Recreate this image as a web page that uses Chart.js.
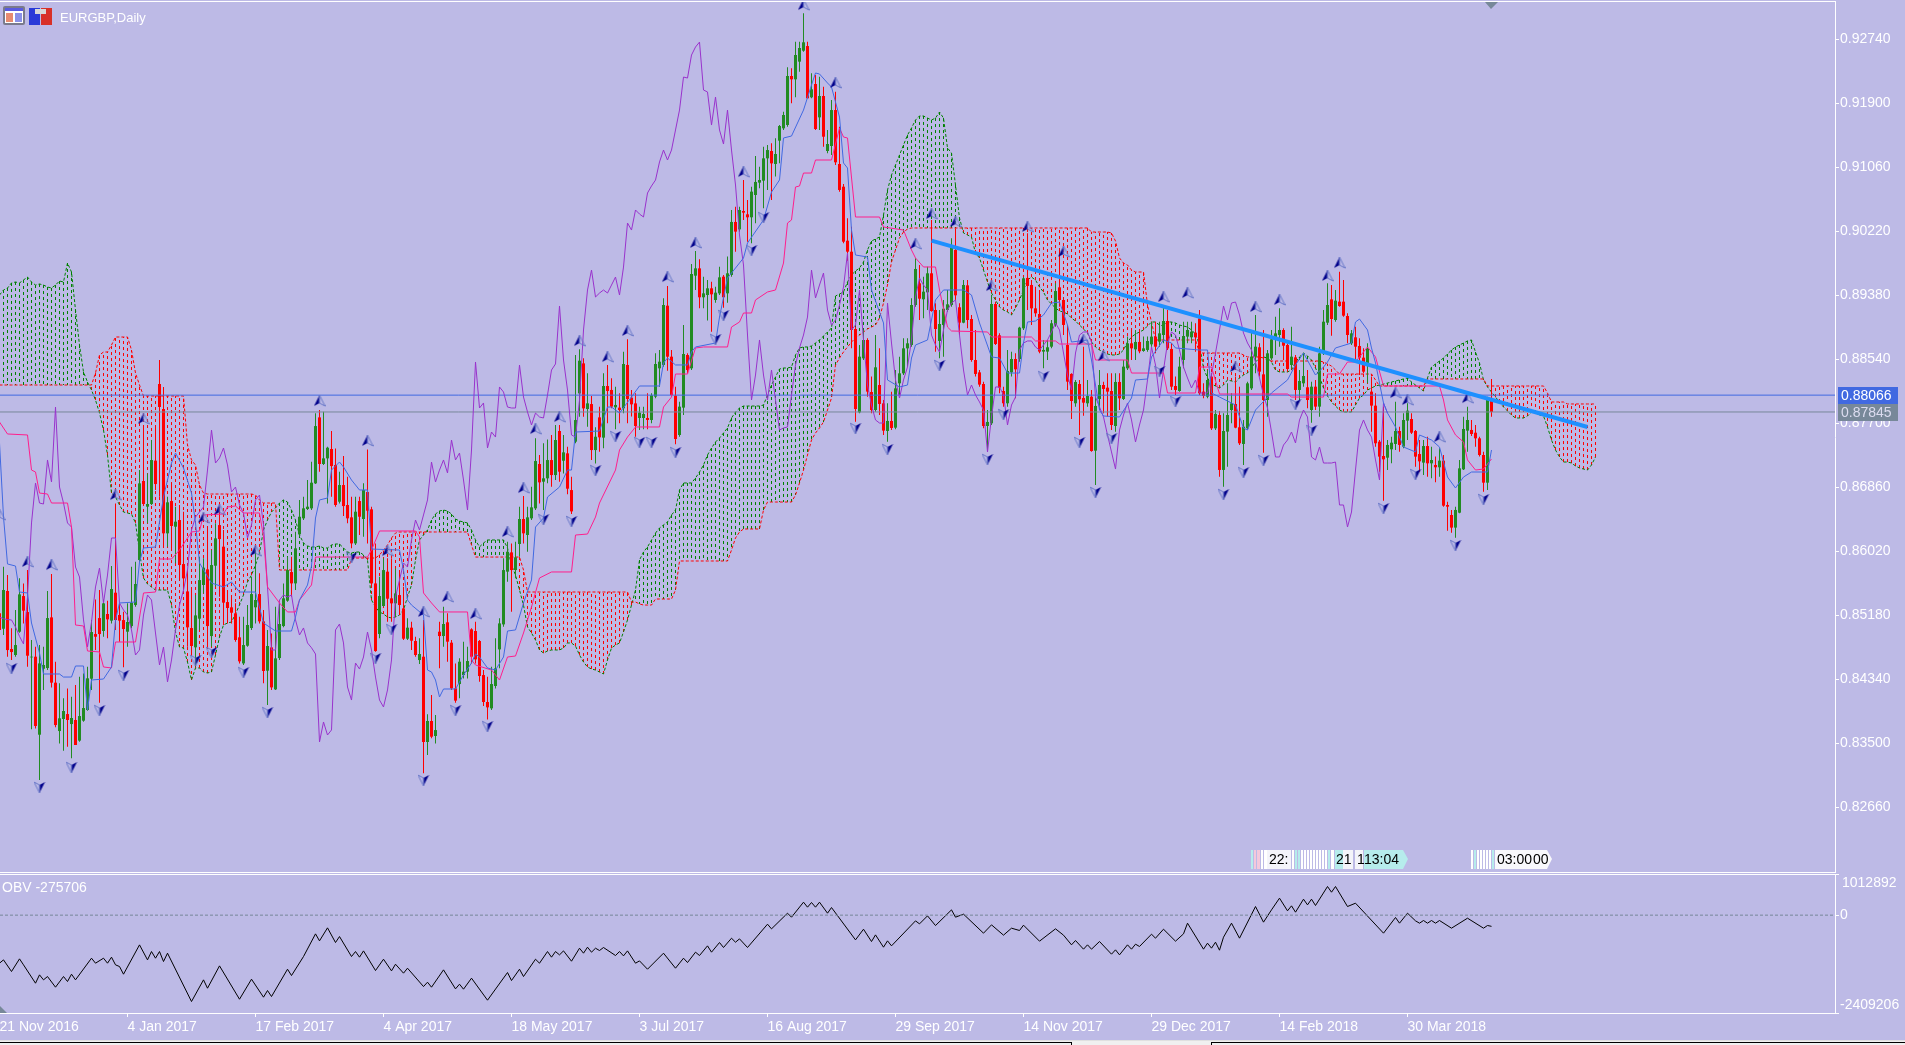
<!DOCTYPE html>
<html>
<head>
<meta charset="utf-8">
<title>EURGBP Daily</title>
<style>
  html, body { margin: 0; padding: 0; background: #BDBAE6; overflow: hidden; }
  #page { position: relative; width: 1905px; height: 1045px; background: #BDBAE6; overflow: hidden; }
  canvas { position: absolute; left: 0; display: block; }
  #main { top: 0; }
  #sub { top: 874px; }
  .wl { position: absolute; background: #fff; }
  .txt { position: absolute; color: #fff; font: 13px "Liberation Sans", Arial, sans-serif; white-space: nowrap; }
  svg { position: absolute; left: 0; top: 0; }
</style>
</head>
<body>
<div id="page">
  <canvas id="main" width="1905" height="874"></canvas>
  <canvas id="sub" width="1905" height="171"></canvas>
  <div class="wl" style="left:0;top:1px;width:1836px;height:1px"></div>
  <div class="wl" style="left:1835px;top:1px;width:1px;height:1px"></div>
  <div class="wl" style="left:0;top:872px;width:1836px;height:1px"></div>
  <div class="wl" style="left:0;top:874px;width:1836px;height:1px"></div>
  <div class="txt" style="left:60px;top:10px">EURGBP,Daily</div>
  <div class="txt" style="left:2px;top:879px;font-size:14px">OBV -275706</div>
  <svg width="1905" height="1045" font-family="Liberation Sans" font-size="14">
    <!-- chart window icons -->
    <rect x="3" y="6" width="22" height="19" rx="2" fill="#7a7a8c"/>
    <rect x="5" y="8" width="18" height="15" fill="#fff"/>
    <rect x="5" y="8" width="18" height="3" fill="#5a5ae0"/>
    <rect x="6" y="13" width="7" height="9" fill="#e88a70"/>
    <rect x="15" y="13" width="7" height="9" fill="#8a90e8"/>
    <rect x="29" y="8" width="11" height="17" fill="#2a3ad8"/>
    <rect x="41" y="8" width="11" height="17" fill="#d83028"/>
    <rect x="35" y="9" width="11" height="5" fill="#d8d8d8"/>
    <!-- grab handles -->
    <polygon points="1485,2 1498,2 1491,9" fill="#778899"/>
    <polygon points="0,1006 0,1013 7,1013" fill="#778899"/>
    <!-- clock tags over the pane border -->
    <g>
      <rect x="1251" y="850" width="2" height="19" fill="#B6ECEC"/><rect x="1254" y="850" width="2" height="19" fill="#F4C8DC"/>
      <rect x="1257" y="850" width="3" height="19" fill="#F4C8DC"/><rect x="1261" y="850" width="2" height="19" fill="#fff"/>
      <rect x="1264" y="850" width="3" height="19" fill="#fff"/><rect x="1267" y="850" width="24" height="19" fill="#f4f4fa"/>
      <rect x="1292" y="850" width="2" height="19" fill="#fff"/><rect x="1295" y="850" width="2" height="19" fill="#B6ECEC"/>
      <rect x="1298" y="850" width="2" height="19" fill="#B6ECEC"/><rect x="1301" y="850" width="2" height="19" fill="#fff"/>
      <rect x="1304" y="850" width="2" height="19" fill="#fff"/><rect x="1307" y="850" width="2" height="19" fill="#fff"/>
      <rect x="1310" y="850" width="2" height="19" fill="#fff"/><rect x="1313" y="850" width="2" height="19" fill="#fff"/>
      <rect x="1316" y="850" width="2" height="19" fill="#fff"/><rect x="1319" y="850" width="2" height="19" fill="#fff"/>
      <rect x="1322" y="850" width="2" height="19" fill="#fff"/><rect x="1325" y="850" width="2" height="19" fill="#fff"/>
      <rect x="1328" y="850" width="2" height="19" fill="#B6ECEC"/><rect x="1331" y="850" width="3" height="19" fill="#fff"/>
      <rect x="1335" y="850" width="8" height="19" fill="#B6ECEC"/><rect x="1343" y="850" width="10" height="19" fill="#f4f4fa"/>
      <rect x="1355" y="850" width="8" height="19" fill="#f4f4fa"/>
      <polygon points="1364,850 1403,850 1408,859 1403,869 1364,869" fill="#B6ECEC"/>
      <rect x="1471" y="850" width="2" height="19" fill="#fff"/><rect x="1474" y="850" width="2" height="19" fill="#B6ECEC"/>
      <rect x="1477" y="850" width="2" height="19" fill="#fff"/><rect x="1480" y="850" width="2" height="19" fill="#fff"/>
      <rect x="1483" y="850" width="2" height="19" fill="#fff"/><rect x="1486" y="850" width="2" height="19" fill="#fff"/>
      <rect x="1489" y="850" width="2" height="19" fill="#fff"/><rect x="1492" y="850" width="2" height="19" fill="#B6ECEC"/>
      <polygon points="1495,850 1547,850 1552,859 1547,869 1495,869" fill="#f8f8fc"/>
      <text x="1269" y="864" fill="#000">22:</text>
      <text x="1336" y="864" fill="#000">21</text>
      <text x="1357" y="864" fill="#000">1</text>
      <text x="1364" y="864" fill="#000">13:04</text>
      <text x="1497" y="864" fill="#000">03:00</text>
      <text x="1533" y="864" fill="#000">00</text>
    </g>
    <!-- terminal tab strip -->
    <rect x="0" y="1040" width="1905" height="1" fill="#E0E0E0"/>
    <rect x="0" y="1041" width="1905" height="4" fill="#F0F0F0"/>
    <rect x="0" y="1042" width="1071" height="1" fill="#000"/>
    <rect x="1211" y="1042" width="694" height="1" fill="#000"/>
    <rect x="1071" y="1042" width="1" height="3" fill="#000"/>
    <rect x="1211" y="1042" width="1" height="3" fill="#000"/>
  </svg>
</div>

<script src="https://cdn.jsdelivr.net/npm/chart.js@4"></script>
<script>
// prices are in points (1e-5), one row per 10 bars
const highs = [
85705,85814,85705,85005,85245,85661,85595,85770,84852,84764,
84786,84764,85495,85718,84567,84283,84086,84217,84108,84261,
84370,84414,84502,85114,85385,85508,85385,85368,85823,86645,
85333,85224,85333,85814,85880,87083,87652,87039,87477,87674,
88527,88172,86733,86908,86602,86624,86536,85770,85508,85442,
85945,85924,86339,86033,86383,86602,86295,85508,85420,85333,
85158,85158,85311,85683,86033,85727,85245,84983,84939,85289,
85333,85595,85945,85945,86274,86689,86733,86952,87192,87827,
87870,87849,87389,87595,87367,87061,87267,86995,86733,86733,
86733,86908,87354,86602,86120,85683,85924,85924,85924,85792,
85770,85552,85136,85092,84895,84874,85114,83876,84130,83867,
85092,85289,85202,84852,84545,84611,84830,84764,85005,85092,
84852,84458,84370,84502,84874,85136,85924,86142,86120,86142,
86602,86742,86602,86864,87499,87280,87433,87485,87542,87674,
87674,87542,87389,86995,88592,88667,88549,88352,88054,87643,
87914,88352,88462,88287,88177,88090,88637,88798,88134,88090,
87915,87915,88090,88090,88615,88659,89337,89498,88659,88177,
87980,88987,88615,89787,89958,89848,89621,89577,89555,89490,
89752,89643,89884,90496,90540,90540,90890,90627,90802,91205,
91065,91327,91349,91371,91437,91612,91787,92368,92355,92705,
92705,93077,92705,92290,92268,92246,92115,91546,91940,92049,
91590,90837,90387,90277,88965,88724,88921,88812,88309,88855,
88680,88002,87958,88112,88396,88571,88812,88812,89337,89862,
89774,89621,89752,90365,89271,89184,89315,89446,90124,90255,
89271,89577,89577,89118,88921,88396,88243,87871,89380,89293,
88877,88177,88658,88637,88615,88965,89621,90190,89577,89490,
89446,88790,88790,89052,89534,89993,89337,88987,88352,88265,
88265,88702,88265,88134,88046,88396,88243,88352,88352,88352,
88352,88527,88834,88921,88921,88921,88834,88834,89030,89030,
89030,89227,89184,88746,88309,88571,89030,89030,89030,89009,
89184,88221,88396,88352,87871,87858,87827,88221,88090,88309,
88177,87740,88243,88921,89118,88746,88921,88658,88921,89096,
89205,88943,88746,88965,88593,88396,88615,88396,88243,88265,
88702,89183,89533,89512,89446,89687,89577,89140,88921,88965,
88812,88680,88746,88309,88090,87477,87915,87477,87521,87980,
87652,87827,87958,87827,87609,87477,87477,87521,87390,87259,
87368,87280,86668,86559,86602,87215,87783,87915,87740,87674,
87521,87324,88046,88278];
const lows = [
84633,84917,84633,84589,84633,84948,85070,84502,83679,83692,
83014,84195,84458,84230,83706,83495,83399,83452,83299,83474,
83518,83780,83924,84195,84720,84029,84895,84874,85070,84983,
84830,84493,84764,85005,85289,85880,86624,86383,86624,86820,
86733,86077,86077,86055,85858,85639,85508,84764,84677,84502,
84983,85464,84764,84764,85552,85420,85070,85070,85070,84830,
84545,84524,84764,84983,85070,85070,84283,84000,84195,84195,
84589,85018,85355,85420,85508,86208,86427,86558,86558,86899,
87061,87149,86645,86733,86602,86645,86479,86383,86055,86099,
86230,86208,86120,85574,84699,84874,85289,85092,85092,85158,
85180,84852,84852,84721,84633,84537,83102,83342,83561,83495,
84480,84764,84567,84195,84029,84086,84348,84348,84545,84545,
84305,83986,83810,83933,84217,84480,85027,85617,85224,85661,
85945,86120,86011,86427,86558,86645,86558,86908,86864,86952,
86930,87039,86764,86505,87433,87783,87783,87652,87214,87170,
87324,87368,87696,87893,87617,87696,87827,87696,87784,87521,
87608,87617,87617,87696,88024,88177,88440,88387,88046,87420,
87521,87805,88352,88396,89446,89205,89205,89044,88899,89280,
89380,89214,89280,89621,89949,90212,90365,90080,90058,90321,
90780,90518,90758,90627,90934,91108,91546,91590,91896,91975,
92312,92574,91962,91962,91546,91546,91327,91240,91218,91087,
90737,90058,89831,88680,87718,87827,88527,88046,87827,87849,
87805,87543,87455,87608,87617,88068,88330,88440,88702,89227,
89052,89074,89184,89162,88637,88549,88571,89162,89227,89315,
88855,89009,88943,88505,88309,88177,87630,87324,87674,88724,
88090,87915,87915,88309,88024,88505,88921,89184,88987,89096,
88615,88418,88527,88680,88965,89227,88855,88134,87753,87915,
87543,87797,87915,87324,86887,87871,87827,87784,87608,87587,
87871,88002,88396,88527,88527,88615,88637,88637,88702,88615,
88702,88746,88659,88134,88068,88112,88418,88746,88746,88637,
88068,88024,88024,87609,87609,86996,86865,87127,87696,87630,
87412,87149,87609,88134,88352,88309,87311,87783,88527,88593,
88702,88527,88374,88418,88002,88002,88177,87893,87705,87871,
87783,88593,88987,88847,89030,89227,89096,88746,88724,88527,
88330,88352,88221,87587,87390,87062,86681,87084,87171,87346,
87324,87368,87477,87556,87127,87062,87018,86996,86974,86922,
86996,86602,86287,86261,86195,86515,87084,87324,87530,87390,
87259,86799,86821,87783];
const opens = [
85202,85000,85495,84734,84655,84961,85429,85219,84624,84633,
83609,84475,84484,85149,84292,83657,83815,83880,83749,83802,
83531,83793,83933,84344,84930,85140,84970,85193,85106,85473,
85180,85114,84961,85035,85311,85902,86939,86602,86637,87206,
88212,87884,86252,86676,86339,86427,85849,85490,85009,84756,
85132,85574,85779,84904,85827,86361,86077,85350,85281,85202,
84887,84545,84777,85009,85281,85455,85097,84449,84755,84204,
84615,85035,85368,85744,85595,86239,86449,86571,86580,86908,
87774,87162,87236,87359,87149,86667,86886,86624,86462,86120,
86676,86440,86794,86567,85595,84931,85298,85749,85399,85333,
85442,85267,84869,85014,84839,84589,84633,83513,83789,83592,
84961,84904,85084,84817,84217,84274,84392,84436,84992,84970,
84839,84392,84038,83955,84248,84729,85057,85749,86002,85770,
86112,86440,86230,86449,86580,87162,86930,86974,87214,87017,
87595,87205,87302,86820,87455,88089,88483,87884,87949,87345,
87774,87508,88186,88134,87906,87902,87893,88462,88033,87958,
87766,87766,87766,87740,88046,88418,88462,89240,88571,88059,
87543,87902,88593,88418,89634,89730,89350,89380,89468,89315,
89402,89621,89402,89643,90339,90242,90483,90439,90400,90693,
90855,90881,91174,91270,91100,91406,91568,91612,92255,92211,
92443,92587,92648,91975,92150,91712,91992,91270,91336,91808,
91100,90802,90093,89949,88934,87840,88549,88790,88107,87871,
88199,87958,87595,87727,87639,88221,88352,88680,88724,89249,
89534,89324,89415,89665,89184,88777,88987,89184,89249,89971,
89219,89017,89507,89065,88527,88365,88212,87661,87696,89262,
88851,88120,87959,88365,88540,88540,88943,89604,89512,89205,
89131,88637,88637,88702,88987,89481,89315,88724,88344,87959,
88212,88029,87959,88046,87337,88015,88199,88164,88120,87661,
88239,88015,88418,88746,88667,88764,88645,88659,88733,88834,
88768,88855,89039,88672,88186,88120,88527,88834,88825,88886,
89074,88112,88046,88309,87630,87805,87084,87587,87871,87950,
87644,87425,87630,88155,88571,88694,88339,88002,88549,88790,
88855,88921,88724,88462,88562,88134,88221,88169,87871,88177,
87915,88615,89017,89323,89052,89293,89293,89105,88746,88825,
88711,88558,88483,88112,87928,87455,87267,87245,87355,87425,
87595,87390,87731,87753,87595,87293,87180,87398,87171,87149,
87119,87206,86624,86493,86327,86523,87092,87600,87609,87573,
87499,87280,86917,87993];
const closes = [
84983,85508,84720,84694,84786,85451,85237,84646,84633,83723,
84545,84524,85140,84292,83736,83824,83920,83802,83828,83474,
83854,83959,84349,84957,84895,84930,85333,85123,85521,85114,
85106,84996,85088,85342,85587,86908,86637,86637,87214,86899,
87910,86252,86659,86348,86405,85836,85661,85018,84773,85175,
85639,85801,85035,85836,86186,86177,85342,85272,85210,84852,
84572,84786,85049,85455,85377,85097,84445,84773,84230,84611,
85062,85399,85770,85595,86055,86470,86580,86602,86917,87660,
87162,87236,87376,87135,86624,86886,86610,86449,86120,86536,
86470,86820,86549,85595,84707,85429,85770,85394,85333,85464,
85311,84869,85014,84843,84655,84668,83513,83789,83583,83670,
84904,85062,84830,84217,84056,84567,84436,84576,84633,84598,
84379,84038,83968,84274,84480,85070,85770,86011,85770,85937,
86440,86252,86462,86593,87201,86921,86974,87214,87017,87477,
87061,87315,86838,86540,87739,88518,87892,87958,87345,87520,
87512,88186,88120,87915,87937,87871,88475,88015,87945,87661,
87836,87818,87740,88064,88475,88505,89249,88571,88068,87490,
87915,88606,88396,89656,89730,89350,89402,89468,89389,89411,
89612,89350,89665,90339,90212,90496,90461,90400,90737,90864,
90890,91174,91283,91108,91231,91598,91743,92255,92211,92530,
92622,92697,91962,92080,91559,91992,91458,91362,91808,91122,
90759,90080,89949,88921,87884,88571,88790,88112,87871,88431,
87950,87600,87727,87635,88155,88352,88680,88746,89249,89722,
89332,89424,89665,89170,88934,89000,89201,89258,90015,89376,
89017,89512,89052,88527,88344,88204,87661,87714,89262,88737,
88164,87959,88383,88540,88405,88952,89599,89499,89205,89140,
88637,88659,88694,89009,89433,89315,88987,88243,87989,88239,
88011,87967,88055,87333,87924,88199,88147,88112,87674,88239,
88024,88440,88746,88680,88764,88641,88680,88777,88834,88702,
88877,89039,88680,88177,88134,88440,88842,88921,88899,88825,
88090,88055,88265,87630,87819,87084,87595,87805,87958,87639,
87434,87652,88221,88571,88702,88374,88002,88615,88798,88877,
88921,88715,88409,88571,88134,88252,88317,88002,88177,87915,
88615,89030,89249,89065,89306,89236,89109,88855,88877,88702,
88558,88374,88680,87928,87434,87259,87223,87412,87442,87595,
87412,87740,87862,87573,87259,87197,87398,87171,87215,87119,
87206,86615,86602,86327,86559,87105,87622,87740,87556,87499,
87280,86917,88015,87845];

// leading span A, bars 0-399 (runs 26 bars past the last candle)
const senkouA = [
89380,89446,89472,89538,89551,89538,89577,89616,89551,89511,
89525,89511,89485,89472,89511,89564,89551,89800,89682,89183,
88724,88370,88238,88133,88002,87831,87608,87280,86781,86729,
86624,86532,86519,86506,86388,86007,85666,85587,85548,85508,
85508,85508,85508,85311,84957,84760,84747,84563,84327,84485,
84485,84432,84419,84432,84655,84891,85049,85075,85088,85193,
85311,85443,85613,85705,85836,85994,86296,86427,86532,86585,
86650,86690,86663,86558,86427,86230,86125,86086,86073,86073,
86086,86060,86060,86099,86112,86112,86060,86007,85994,86007,
86007,85968,85902,85377,85285,85220,85193,85154,85141,85154,
85180,85246,85416,85574,85902,86165,86230,86296,86427,86506,
86545,86558,86545,86506,86440,86414,86401,86388,86296,86165,
86073,86125,86165,86165,86165,86165,86165,86060,85836,85705,
85508,85311,85023,84944,84852,84721,84681,84708,84721,84721,
84721,84747,84813,84813,84773,84655,84563,84498,84472,84458,
84432,84406,84590,84747,84786,84813,84957,85115,85311,85508,
85902,86007,86073,86165,86256,86322,86362,86401,86493,86558,
86821,86913,86913,86913,86978,87057,87149,87280,87372,87451,
87503,87569,87635,87766,87845,87897,87923,87923,87923,87923,
87923,87936,88068,88199,88304,88409,88422,88422,88435,88593,
88685,88698,88698,88711,88750,88790,88842,88895,88947,89367,
89393,89420,89551,89643,89695,89735,89813,89971,90089,90115,
90141,90430,90758,90955,91086,91218,91349,91480,91572,91677,
91730,91730,91703,91677,91703,91782,91703,91310,91244,90824,
90391,90194,90168,90141,89931,89866,89708,89551,89406,89315,
89223,89183,89157,89118,89210,89315,89446,89577,89616,89577,
89485,89420,89315,89262,89210,89170,89157,89131,89078,89039,
88986,88934,88881,88763,88698,88658,88632,88606,88593,88593,
88606,88658,88763,88829,88868,88895,88921,88973,89026,89026,
88986,88973,89026,89026,89013,88986,88973,88960,88921,88868,
88724,88422,88291,88212,88186,88160,88199,88265,88252,88238,
88291,88330,88356,88422,88501,88553,88567,88553,88501,88396,
88370,88370,88370,88396,88501,88567,88619,88580,88527,88422,
88304,88160,88055,87976,87923,87871,87845,87845,87845,87936,
88028,88068,88133,88160,88186,88199,88212,88225,88238,88252,
88265,88278,88291,88238,88199,88160,88120,88291,88435,88475,
88514,88553,88606,88658,88698,88724,88750,88777,88790,88632,
88488,88265,88173,88107,88041,87976,87910,87858,87805,87766,
87766,87766,87792,87845,87831,87805,87792,87648,87477,87346,
87254,87188,87188,87175,87136,87110,87096,87083,87149,87254];
// leading span B, same bars
const senkouB = [
88199,88199,88199,88199,88199,88199,88199,88199,88199,88199,
88199,88199,88199,88199,88199,88199,88199,88199,88199,88199,
88199,88199,88199,88199,88356,88593,88632,88632,88724,88829,
88829,88829,88829,88658,88356,88199,88055,88055,88055,88055,
88055,88055,88055,88055,88055,88055,88055,87412,87215,87149,
86886,86781,86768,86768,86768,86768,86768,86768,86768,86768,
86768,86768,86768,86768,86755,86690,86650,86650,86650,86650,
85771,85771,85771,85771,85771,85771,85771,85771,85771,85771,
85771,85771,85771,85771,85771,85771,85771,85771,85915,85928,
85928,85928,85928,85928,85928,85968,86033,86099,86191,86256,
86270,86270,86270,86270,86270,86270,86270,86270,86270,86270,
86270,86270,86270,86270,86270,86270,86270,86270,86099,85941,
85941,85941,85941,85941,85941,85941,85941,85941,85941,85941,
85941,85771,85482,85482,85482,85482,85482,85482,85482,85482,
85482,85482,85482,85482,85482,85482,85482,85482,85482,85482,
85482,85482,85482,85482,85482,85482,85482,85482,85351,85351,
85325,85311,85311,85311,85390,85390,85390,85390,85390,85508,
85889,85889,85889,85889,85889,85889,85889,85889,85889,85889,
85889,85889,85889,86033,86191,86270,86309,86309,86309,86309,
86309,86558,86663,86663,86663,86663,86663,86663,86663,86755,
86913,87083,87280,87477,87569,87635,87713,87871,88028,88461,
88553,88632,88698,88763,88816,88855,88895,88934,88960,88986,
89078,89275,89511,89813,89971,90128,90207,90246,90260,90260,
90260,90260,90260,90260,90260,90260,90260,90260,90260,90260,
90260,90260,90260,90260,90260,90260,90260,90260,90260,90260,
90260,90260,90260,90260,90260,90260,90260,90260,90260,90260,
90260,90260,90260,90260,90260,90260,90260,90260,90260,90260,
90260,90260,90260,90207,90207,90207,90207,90207,90194,90089,
89866,89800,89774,89708,89682,89682,89682,89249,89026,88790,
88790,88790,88790,88790,88790,88790,88790,88790,88790,88790,
88619,88619,88619,88619,88619,88619,88619,88619,88619,88619,
88619,88593,88567,88567,88567,88567,88553,88527,88514,88514,
88514,88514,88514,88514,88514,88514,88514,88514,88514,88514,
88514,88501,88475,88448,88396,88343,88343,88343,88343,88343,
88343,88343,88343,88343,88265,88186,88186,88186,88186,88186,
88186,88186,88186,88186,88186,88186,88186,88278,88278,88278,
88278,88278,88278,88278,88278,88278,88278,88278,88278,88278,
88278,88278,88186,88186,88186,88186,88186,88186,88186,88186,
88186,88186,88186,88186,88186,88186,88186,88094,87976,87976,
87976,87976,87950,87950,87950,87950,87950,87950,87950,87950];

// lagging span, bars 0-347
const chikou = [
85154,85130,85120,85115,85023,84900,84800,85416,86388,86913,
86650,86637,87215,86926,87910,86860,86650,86388,86335,85810,
85679,85115,84760,85088,85548,85797,85338,85705,86191,86191,
85338,85246,85180,84984,84655,84721,85180,85443,85377,84944,
84524,84760,84301,84590,84984,85311,85508,85771,86296,86466,
86532,86598,87083,87608,87175,87241,87372,87149,86795,86860,
86624,86519,86191,86362,86690,86755,86362,85548,84721,84721,
85377,85443,85416,85443,85115,84918,85010,84813,84750,84668,
83514,83776,83605,83671,84984,85062,84813,84235,84064,84550,
84471,84629,84957,84721,84366,84064,83973,84196,84590,85416,
85640,85863,85810,86165,86427,86296,86493,86690,87188,86926,
87083,87215,87044,87477,87215,87306,86952,86558,87346,88501,
87897,87963,87372,87582,87516,88173,88107,87910,87897,87897,
88461,88041,87845,87674,87831,87779,87766,88068,88396,88475,
89236,88527,88133,87543,87516,88002,88921,89446,89708,89354,
89406,89446,89406,89511,89616,89380,89747,90325,90233,90496,
90443,90404,90719,90811,90889,91126,91283,91152,91283,91546,
91808,92241,92228,92530,92635,92700,92071,92045,91611,91979,
91546,91362,91808,91283,90824,90168,89774,88855,88002,88330,
88790,88330,88002,88396,88002,87608,87635,87648,88068,88462,
88685,88855,89091,89708,89341,89511,89669,89183,88986,89052,
89249,89485,89931,88921,88986,89446,88790,88199,87936,87740,
87700,87700,89275,88750,88265,88028,88265,88435,88790,89354,
89603,89511,89446,88855,88724,88632,88921,89183,89275,89315,
88855,88396,88068,88199,88068,87976,87871,87320,87779,88173,
88173,88068,87674,87936,88041,88658,88750,88777,88777,88698,
88658,88724,88790,88895,89013,88921,88619,88330,88133,88619,
88855,88895,88895,88763,88041,87910,87779,87543,87320,87096,
87608,87805,87963,87740,87451,87674,87871,88265,88698,88461,
88028,88396,88750,88895,88855,88658,88435,88291,88160,88265,
88094,88094,88094,88330,88619,88921,89236,89052,89275,89288,
89118,88881,88750,88658,88501,88291,88068,87897,87582,87254,
87254,87411,87477,87582,87438,87740,87871,87779,87254,87215,
87385,87175,87175,87175,87188,86624,86624,86335,86532,87083,
87608,87740,87608,87516,87215,86952,87963,87831];

// conversion line vertices
const tenkanBars = [0,1,2,4,5,7,8,10,11,15,16,18,19,21,22,23,26,28,29,30,34,35,36,39,41,43,44,46,48,49,50,53,56,58,60,64,66,69,73,74,75,77,78,79,80,82,83,85,86,88,90,92,93,100,101,102,103,106,107,108,109,110,111,114,116,118,119,120,122,124,126,127,129,131,133,134,136,137,140,142,143,144,150,152,153,155,158,160,165,166,167,169,172,173,174,179,180,182,186,187,191,193,195,196,198,201,203,204,205,207,208,210,211,212,213,214,217,218,221,222,225,227,228,229,232,234,236,241,243,245,248,250,252,255,256,257,259,261,263,265,267,268,272,273,275,276,280,283,284,287,288,291,293,294,300,302,303,305,309,311,312,314,318,322,324,326,329,331,332,334,338,339,340,342,343,344,346,347,349,351,354,355,358,360,362,364,366,368,372,373];
const tenkanVals = [87438,86466,85850,85823,85482,85469,85075,84681,84406,84406,84366,84366,84511,84511,83933,84327,84340,84498,85115,85338,85351,85876,86060,86073,86729,87175,87306,87110,86781,86388,85863,85600,85548,85614,85482,85482,85075,84970,84970,85154,85377,85574,85823,86453,86690,86716,87083,87188,87123,86952,86821,86821,86046,86033,85771,85377,85311,85180,84458,84432,84327,84104,84209,84209,84393,84550,84668,84629,84485,84458,84629,84970,84984,85338,85640,86335,86453,86729,86860,87083,87083,87582,87595,87910,87910,87831,88041,88186,88186,88488,88553,88462,88462,88632,88698,88750,89091,89603,89866,90063,90365,90732,90890,91441,91467,91808,92136,92294,92281,92163,92110,91716,91113,91047,90233,89905,89879,89446,89013,88265,88173,88199,88553,88724,88790,89315,89446,89446,89380,89013,88567,88553,88356,88356,88750,89026,89039,89118,89275,89288,88986,88763,88790,88527,87871,87792,87779,88028,88265,88278,88567,88790,88750,88685,88658,88658,88094,88041,87936,87634,87608,87871,88094,88265,88462,88619,88330,88435,88501,88685,88750,89026,89065,88921,88685,88488,87963,87831,87648,87385,87320,87543,87477,87385,86991,86847,86991,87057,87057,87346];
// base line vertices
const kijunBars = [0,2,7,8,9,10,12,13,17,18,19,21,22,25,26,28,29,34,36,39,40,43,45,48,50,51,56,57,59,61,65,66,67,70,72,74,75,78,79,92,93,95,104,105,106,108,110,117,118,119,123,125,127,129,131,133,135,138,143,144,147,149,150,154,155,157,159,165,166,168,169,172,174,176,182,183,185,186,188,189,192,194,196,197,198,199,200,201,203,204,208,210,211,212,214,220,221,226,228,229,231,234,235,237,238,247,248,258,259,264,265,273,274,282,283,291,292,299,300,303,305,322,323,331,332,335,337,339,342,344,346,360,361,362,364,366,367,369,371,373];
const kijunVals = [87713,87556,87543,87083,87057,86781,86768,86650,86650,86335,85049,85036,84708,84695,84498,84485,84826,84826,85469,85482,85915,85915,86033,86270,86283,86493,86506,86598,86611,86519,86519,86204,85548,85338,85220,85220,85377,85574,85941,85941,86033,86283,86283,86204,85469,85338,85220,85220,84590,84524,84458,84327,84629,84642,84944,85285,85666,85745,85745,86230,86243,86466,86650,87083,87346,87516,87648,87648,87910,88041,88343,88343,88685,88698,88698,88960,89026,89144,89144,89315,89420,89446,89800,90325,90365,90798,90811,90981,90981,91152,91152,91572,91454,91441,90404,90404,90273,90233,89971,89866,89748,89748,89446,88960,88908,88895,88829,88829,88777,88777,88737,88737,88527,88527,88356,88356,88094,88094,88435,88435,88081,88081,88041,88041,88343,88343,88501,88501,88698,88567,88186,88186,88002,87740,87543,87451,87215,87083,87096,87228];

// fractal markers
const upBars = [0,7,13,29,36,51,55,64,80,92,97,106,112,119,127,131,134,140,145,152,157,167,174,186,201,209,229,233,239,248,257,266,271,276,291,297,309,314,320,332,335,349,352,360,367];
const upVals = [86493,85876,85836,86755,87753,86453,86558,86020,87989,87464,86020,85220,85417,85193,86270,86847,87621,87779,88776,88566,88908,89616,90063,90994,93186,92163,90050,90443,90338,89498,90273,89945,88790,88580,89354,89406,88435,89223,89315,89630,89800,88094,88002,87516,88028];
const downBars = [3,10,18,25,31,49,53,61,67,88,94,98,106,114,122,136,143,149,154,160,163,169,179,181,188,191,214,222,235,247,251,261,270,274,278,290,294,306,311,316,324,328,346,354,364,371];
const downVals = [84484,82923,83185,83933,84393,84590,84695,84432,83907,85941,84616,84996,83015,83933,83723,86440,86414,87083,87530,87451,87451,87320,88803,89118,89971,90404,87635,87359,88462,87228,87818,88317,87451,86795,87503,88383,87989,86768,87057,87215,87950,87608,86585,87031,86099,86703];

const trendBars = [233, 397];
const trendVals = [90093, 87648];
const askLine = 88066;
const bidLine = 87845;

const priceTicks = [92740,91900,91060,90220,89380,88540,87700,86860,86020,85180,84340,83500,82660];
const dateTicks = [0,32,64,96,128,160,192,224,256,288,320,352];
const dateLabels = ['21 Nov 2016','4 Jan 2017','17 Feb 2017','4 Apr 2017','18 May 2017','3 Jul 2017','16 Aug 2017','29 Sep 2017','14 Nov 2017','29 Dec 2017','14 Feb 2018','30 Mar 2018'];

// on balance volume vertices, in thousands
const obvBars = [0,1,3,5,6,9,10,11,12,14,16,17,18,19,23,24,26,27,28,29,30,31,35,37,38,39,40,41,42,48,51,52,55,60,63,66,67,68,72,73,76,79,80,82,84,85,88,89,90,91,94,96,98,99,101,102,106,107,108,111,114,115,116,118,122,127,128,130,131,134,135,137,138,139,140,141,143,145,146,147,148,149,150,151,154,155,156,157,159,160,162,166,169,171,172,174,175,177,178,180,181,183,184,185,187,192,193,197,198,201,202,203,204,205,207,208,214,216,218,219,221,222,223,229,230,232,234,238,239,241,246,248,251,253,255,256,260,264,266,268,269,271,272,273,275,278,279,280,282,283,284,285,288,289,291,294,296,297,301,302,303,304,305,306,308,310,314,316,318,320,322,323,324,326,327,328,329,332,333,334,337,339,346,349,350,352,354,355,356,357,358,359,360,363,367,371,372,373];
const obvVals = [-1183,-1101,-1388,-1076,-1224,-1676,-1470,-1593,-1511,-1774,-1511,-1634,-1454,-1593,-1060,-1183,-1060,-1183,-1035,-1224,-1265,-1454,-732,-1101,-896,-1060,-896,-1142,-937,-2127,-1593,-1799,-1249,-2070,-1577,-2020,-1856,-2004,-1331,-1487,-1019,-461,-633,-313,-674,-527,-1019,-896,-1035,-880,-1364,-1085,-1372,-1208,-1429,-1306,-1758,-1651,-1774,-1347,-1815,-1700,-1823,-1552,-2094,-1413,-1610,-1331,-1511,-1085,-1183,-896,-1035,-896,-978,-880,-1134,-814,-937,-789,-912,-814,-871,-797,-994,-896,-1003,-880,-1183,-1126,-1331,-937,-1306,-1060,-1167,-912,-994,-756,-912,-674,-797,-568,-666,-584,-797,-223,-338,48,-51,319,196,311,196,319,48,187,-609,-346,-650,-486,-789,-633,-756,-141,-215,-18,-256,130,-50,24,-444,-239,-493,-321,-378,-247,-641,-337,-493,-731,-625,-838,-731,-838,-649,-961,-854,-978,-731,-838,-715,-772,-469,-567,-346,-641,-461,-198,-838,-690,-813,-666,-863,-543,-198,-567,212,-173,130,418,106,229,73,393,253,393,237,705,565,705,212,294,-444,-58,-198,48,-140,-198,-132,-198,-132,-198,-132,-321,-75,-321,-255,-276];
const obvAxisTop = 1012892;
const obvAxisBottom = -2409206;

const BAR_MIN = 0.125, BAR_MAX = 458.875;   // 4px per bar across a 1835px pane
const FONT = '"Liberation Sans", Arial, sans-serif';
const GREEN = '#228B22', RED = '#FF0000';

function pairs(xs, ys, k) {
    return xs.map((x, i) => ({ x, y: k ? ys[i] * k : ys[i] }));
}

// one dashed vertical per bar between the two spans
function hatch(wantGreen) {
    const pts = [];
    senkouA.forEach((a, i) => {
        const isGreen = a >= senkouB[i];
        if (isGreen !== wantGreen) return;
        pts.push({ x: i, y: a }, { x: i, y: senkouB[i] }, { x: i, y: null });
    });
    return pts;
}

function arrowIcon(up) {
    const c = document.createElement('canvas');
    c.width = 12; c.height = 12;
    const g = c.getContext('2d');
    if (!up) { g.translate(12, 12); g.rotate(Math.PI); }
    g.beginPath(); g.moveTo(6, 0); g.lineTo(0.5, 11); g.lineTo(6, 8); g.closePath();
    g.fillStyle = '#00008B'; g.fill();
    g.beginPath(); g.moveTo(6, 0); g.lineTo(11.5, 11); g.lineTo(6, 8); g.closePath();
    g.strokeStyle = '#6A78C8'; g.lineWidth = 1; g.stroke();
    return c;
}

// layout adds half a label of margin around a scale, the panes here run edge to edge
function noScalePadding(s) {
    s.paddingTop = 0; s.paddingBottom = 0; s.paddingLeft = 0; s.paddingRight = 0;
}

const candleColor = closes.map((c, i) => (c >= opens[i] ? GREEN : RED));

const lineBase = { type: 'line', pointRadius: 0, borderWidth: 1, tension: 0, fill: false, spanGaps: false };

const priceTags = {
    id: 'priceTags',
    afterDraw(chart) {
        const y = chart.scales.y, ctx = chart.ctx;
        [[askLine, '#4169E1', '#FFFFFF'], [bidLine, '#778899', '#DCDCF0']].forEach(([v, bg, fg]) => {
            const py = y.getPixelForValue(v);
            ctx.fillStyle = bg;
            ctx.fillRect(1838, Math.round(py) - 8, 60, 17);
            ctx.fillStyle = fg;
            ctx.font = '14px ' + FONT;
            ctx.textAlign = 'left';
            ctx.textBaseline = 'middle';
            ctx.fillText((v / 1e5).toFixed(5), 1841, py + 1);
        });
    }
};

new Chart(document.getElementById('main'), {
    type: 'bar',
    plugins: [priceTags],
    data: {
        datasets: [
            { ...lineBase, data: hatch(false), borderColor: RED, borderDash: [3, 3], order: 20 },
            { ...lineBase, data: hatch(true), borderColor: '#008000', borderDash: [3, 3], order: 21 },
            { ...lineBase, data: pairs(senkouB.map((_, i) => i), senkouB), borderColor: RED, borderDash: [3, 2], order: 18 },
            { ...lineBase, data: pairs(senkouA.map((_, i) => i), senkouA), borderColor: '#008000', borderDash: [3, 2], order: 19 },
            {
                type: 'bar', data: highs.map((h, i) => ({ x: i, y: [lows[i], h] })),
                backgroundColor: candleColor, barThickness: 1, grouped: false, inflateAmount: 0, order: 11
            },
            {
                type: 'bar', data: opens.map((o, i) => ({ x: i, y: [o, closes[i]] })),
                backgroundColor: candleColor, barThickness: 3, grouped: false, inflateAmount: 0, order: 10
            },
            { ...lineBase, data: [{ x: BAR_MIN, y: askLine }, { x: BAR_MAX, y: askLine }], borderColor: '#4169E1', order: 9 },
            { ...lineBase, data: [{ x: BAR_MIN, y: bidLine }, { x: BAR_MAX, y: bidLine }], borderColor: '#778899', order: 9 },
            { ...lineBase, data: pairs(chikou.map((_, i) => i), chikou), borderColor: '#9932CC', order: 8 },
            { ...lineBase, data: pairs(kijunBars, kijunVals), borderColor: '#FF1E8C', order: 7 },
            { ...lineBase, data: pairs(tenkanBars, tenkanVals), borderColor: '#4169E1', order: 6 },
            { ...lineBase, data: pairs(upBars, upVals), showLine: false, pointRadius: 6, pointStyle: arrowIcon(true), order: 3 },
            { ...lineBase, data: pairs(downBars, downVals), showLine: false, pointRadius: 6, pointStyle: arrowIcon(false), order: 3 },
            { ...lineBase, data: pairs(trendBars, trendVals), borderColor: '#1E90FF', borderWidth: 4, order: 1 }
        ]
    },
    options: {
        responsive: false,
        animation: false,
        devicePixelRatio: 1,
        events: [],
        layout: { autoPadding: false, padding: { top: 2, bottom: 2, left: 0, right: 0 } },
        plugins: { legend: { display: false }, tooltip: { enabled: false } },
        scales: {
            x: { type: 'linear', offset: false, min: BAR_MIN, max: BAR_MAX, display: false, grid: { display: false } },
            y: {
                position: 'right', min: 81807, max: 93226,
                afterFit(s) { s.width = 70; noScalePadding(s); },
                afterBuildTicks(s) { s.ticks = priceTicks.map(value => ({ value })); },
                border: { color: '#fff' },
                grid: { drawOnChartArea: false, color: '#fff', tickLength: 4 },
                ticks: {
                    color: '#fff', padding: 1, autoSkip: false, font: { family: FONT, size: 14 },
                    callback: v => (v / 1e5).toFixed(5)
                }
            }
        }
    }
});

const obvTags = {
    id: 'obvTags',
    afterDraw(chart) {
        const y = chart.scales.y, ctx = chart.ctx;
        ctx.fillStyle = '#fff';
        ctx.font = '14px ' + FONT;
        ctx.textAlign = 'left';
        ctx.textBaseline = 'middle';
        ctx.fillText(String(obvAxisTop), 1842, y.getPixelForValue(obvAxisTop) + 9);
        ctx.fillText('0', 1840, y.getPixelForValue(0));
        ctx.fillText(String(obvAxisBottom), 1840, y.getPixelForValue(obvAxisBottom) - 8);
    }
};

new Chart(document.getElementById('sub'), {
    type: 'line',
    plugins: [obvTags],
    data: {
        datasets: [
            { ...lineBase, data: [{ x: BAR_MIN, y: 0 }, { x: BAR_MAX, y: 0 }], borderColor: '#778899', borderDash: [3, 2] },
            { ...lineBase, data: pairs(obvBars, obvVals, 1000), borderColor: '#000000' }
        ]
    },
    options: {
        responsive: false,
        animation: false,
        devicePixelRatio: 1,
        events: [],
        layout: { autoPadding: false, padding: 0 },
        plugins: { legend: { display: false }, tooltip: { enabled: false } },
        scales: {
            x: {
                type: 'linear', min: BAR_MIN, max: BAR_MAX,
                afterFit(s) { s.height = 32; noScalePadding(s); },
                afterBuildTicks(s) { s.ticks = dateTicks.map(value => ({ value })); },
                border: { color: '#fff' },
                grid: { drawOnChartArea: false, color: '#fff', tickLength: 4 },
                ticks: {
                    color: '#fff', padding: 2, align: 'start', autoSkip: false, maxRotation: 0,
                    font: { family: FONT, size: 14 },
                    callback: v => dateLabels[dateTicks.indexOf(v)]
                }
            },
            y: {
                position: 'right', min: obvAxisBottom, max: obvAxisTop,
                afterFit(s) { s.width = 70; noScalePadding(s); },
                afterBuildTicks(s) { s.ticks = [obvAxisTop, 0, obvAxisBottom].map(value => ({ value })); },
                border: { color: '#fff' },
                grid: { drawOnChartArea: false, color: '#fff', tickLength: 4 },
                ticks: { display: false }
            }
        }
    }
});
</script>
</body>
</html>
